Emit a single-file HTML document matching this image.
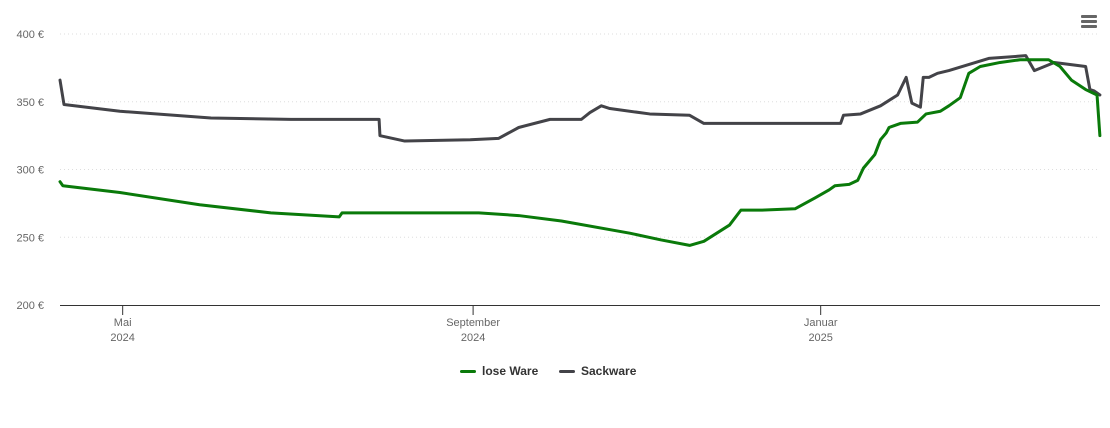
<!DOCTYPE html>
<html><head><meta charset="utf-8"><style>
body{margin:0;background:#fff;font-family:"Liberation Sans",sans-serif}
svg text{font-family:"Liberation Sans",sans-serif}
</style></head><body>
<svg id="c" width="1110" height="423" xmlns="http://www.w3.org/2000/svg"></svg>
<script>
const yTicks=[200,250,300,350,400];
const yTickLabels=["200 €","250 €","300 €","350 €","400 €"];
const xTickDays=[22,145,267];
const xTickLabels=[["Mai","2024"],["September","2024"],["Januar","2025"]];
const looseDays=[0,1,21,49,74,98,99,147,161,176,200,211,221,226,235,239,246,258,265,270,272,277,280,282,284,286,288,290,291,295,301,304,309,312,316,319,323,330,337,347,351,355,360,363,364,365];
const looseVals=[291,288,283,274,268,265,268,268,266,262,253,248,244,247,259,270,270,271,279,285,288,289,292,301,306,311,322,327,331,334,335,341,343,347,353,371,376,379,381,381,376,366,359,356,355,325];
const sackDays=[0,1.4,21,53,81,112,112.3,121,144,154,161,172,183,186,190,193,207,221,226,246,274,275,281,288,294,297,299,302,303,305,308,312,326,339,342,349,360,361.5,363,365];
const sackVals=[366,348,343,338,337,337,325,321,322,323,331,337,337,342,347,345,341,340,334,334,334,340,341,347,355,368,349,346,368,368,371,373,382,384,373,379,376,359,358,355];
const svg=document.getElementById('c');const NS='http://www.w3.org/2000/svg';
const X=d=>60+d*2.849, Y=v=>305-(v-200)*67.75/50;
function mk(t,a,p){const e=document.createElementNS(NS,t);for(const k in a)e.setAttribute(k,a[k]);(p||svg).appendChild(e);return e;}
yTicks.forEach((v,i)=>{
 if(i>0){const g=mk('line',{x1:60,x2:1100,y1:Y(v),y2:Y(v),stroke:'#ddd','stroke-dasharray':'1,3'});
 
 }
 const t=mk('text',{x:44,y:Y(v)+4,'text-anchor':'end','font-size':11,fill:'#666'});t.textContent=yTickLabels[i];
 
 
});
const ax=mk('line',{x1:60,x2:1100,y1:305.5,y2:305.5,stroke:'#333'});


xTickDays.forEach((d,i)=>{
 const tk=mk('line',{x1:X(d),x2:X(d),y1:305,y2:315,stroke:'#333'});
 
 
 xTickLabels[i].forEach((s,j)=>{const t=mk('text',{x:X(d),y:326+j*15,'text-anchor':'middle','font-size':11,fill:'#666'});t.textContent=s;
 
 });
});
function series(days,vals,col,name){
 const p=mk('polyline',{points:days.map((d,i)=>X(d)+','+Y(vals[i])).join(' '),fill:'none',stroke:col,'stroke-width':3,'stroke-linejoin':'round','stroke-linecap':'round'});
 
 
}
series(sackDays,sackVals,'#434348','line-sackware');
series(looseDays,looseVals,'#0a7a0a','line-lose-ware');
</script>
<div style="position:absolute;left:460px;top:364px;font-size:12px;font-weight:bold;color:#333">
 <span style="position:absolute;left:0;top:0;white-space:nowrap"><span style="display:inline-block;width:16px;height:3px;background:#0a7a0a;vertical-align:middle;margin-right:6px;border-radius:2px"></span>lose Ware</span>
 <span style="position:absolute;left:99px;top:0;white-space:nowrap"><span style="display:inline-block;width:16px;height:3px;background:#434348;vertical-align:middle;margin-right:6px;border-radius:2px"></span>Sackware</span>
</div>
<div style="position:absolute;left:1081px;top:15px;width:16px">
 <div style="height:2.5px;background:#666;margin-bottom:2.5px;border-radius:1px"></div>
 <div style="height:2.5px;background:#666;margin-bottom:2.5px;border-radius:1px"></div>
 <div style="height:2.5px;background:#666;border-radius:1px"></div>
</div>
</body></html>
